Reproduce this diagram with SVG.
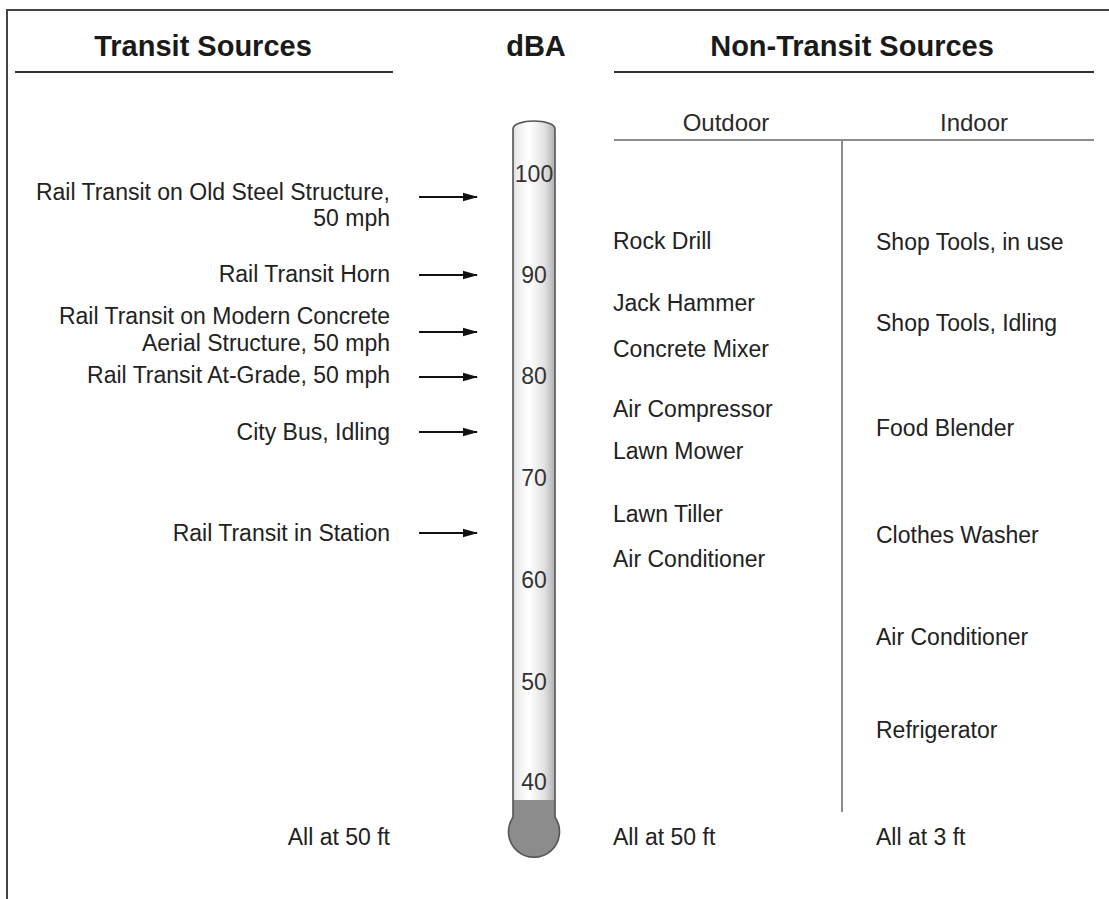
<svg xmlns="http://www.w3.org/2000/svg" width="1109" height="899" viewBox="0 0 1109 899">
  <style>
    .hd { font-family: "Liberation Sans", Arial, sans-serif; font-weight: bold; font-size: 29px; fill: #1a1a1a; }
    .sub { font-family: "Liberation Sans", Arial, sans-serif; font-size: 24px; fill: #2a2a2a; }
    .lbl { font-family: "Liberation Sans", Arial, sans-serif; font-size: 23px; fill: #222; }
    .num { font-family: "Liberation Sans", Arial, sans-serif; font-size: 23px; fill: #333; text-anchor: middle; }
    .end { text-anchor: end; }
    .mid { text-anchor: middle; }
    .rule { stroke: #333; stroke-width: 2; fill: none; }
    .thin { stroke: #666; stroke-width: 1.5; fill: none; }
    .arrow { stroke: #111; stroke-width: 2.2; fill: none; marker-end: url(#ah); }
  </style>
  <defs>
    <marker id="ah" viewBox="0 0 15 10" refX="14" refY="5" markerWidth="15" markerHeight="10" markerUnits="userSpaceOnUse" orient="auto">
      <path d="M0,0.8 L15,5 L0,9.2 Z" fill="#111"/>
    </marker>
    <linearGradient id="tube" x1="0" y1="0" x2="1" y2="0">
      <stop offset="0" stop-color="#b0b0b0"/>
      <stop offset="0.15" stop-color="#ececec"/>
      <stop offset="0.4" stop-color="#ffffff"/>
      <stop offset="0.7" stop-color="#e2e2e2"/>
      <stop offset="1" stop-color="#9c9c9c"/>
    </linearGradient>
    <clipPath id="thermoClip">
      <path d="M513,129 A21,8 0 0 1 555,129 L555,817.3 A25.5,25.5 0 1 1 513,817.3 Z"/>
    </clipPath>
  </defs>

  <rect width="1109" height="899" fill="#ffffff"/>

  <!-- frame -->
  <g id="frame">
    <line x1="6" y1="10" x2="1109" y2="10" stroke="#444" stroke-width="2"/>
    <line x1="7" y1="9" x2="7" y2="899" stroke="#444" stroke-width="2"/>
  </g>

  <!-- headers -->
  <g id="header-transit">
    <text class="hd mid" x="203" y="56">Transit Sources</text>
    <line class="rule" x1="15" y1="72" x2="393" y2="72"/>
  </g>
  <g id="header-dba">
    <text class="hd mid" x="536" y="56">dBA</text>
  </g>
  <g id="header-nontransit">
    <text class="hd mid" x="852" y="56">Non-Transit Sources</text>
    <line class="rule" x1="614" y1="72" x2="1094" y2="72"/>
    <text class="sub mid" x="726" y="131">Outdoor</text>
    <text class="sub mid" x="974" y="131">Indoor</text>
    <line class="thin" x1="614" y1="140" x2="1094" y2="140" stroke="#555"/>
    <line class="thin" x1="842" y1="141" x2="842" y2="812" stroke="#777"/>
  </g>

  <!-- thermometer -->
  <g id="thermometer">
    <path d="M513,129 A21,8 0 0 1 555,129 L555,817.3 A25.5,25.5 0 1 1 513,817.3 Z" fill="url(#tube)"/>
    <rect x="500" y="800" width="70" height="70" fill="#8c8c8c" clip-path="url(#thermoClip)"/>
    <path d="M513,129 A21,8 0 0 1 555,129 L555,817.3 A25.5,25.5 0 1 1 513,817.3 Z" fill="none" stroke="#555" stroke-width="1.6"/>
    <text class="num" x="534" y="182">100</text>
    <text class="num" x="534" y="283">90</text>
    <text class="num" x="534" y="384">80</text>
    <text class="num" x="534" y="486">70</text>
    <text class="num" x="534" y="588">60</text>
    <text class="num" x="534" y="690">50</text>
    <text class="num" x="534" y="790">40</text>
  </g>

  <!-- transit sources -->
  <g id="transit-old-steel">
    <text class="lbl end" x="390" y="200">Rail Transit on Old Steel Structure,</text>
    <text class="lbl end" x="390" y="226">50 mph</text>
  </g>
  <g id="transit-horn">
    <text class="lbl end" x="390" y="282">Rail Transit Horn</text>
  </g>
  <g id="transit-concrete">
    <text class="lbl end" x="390" y="324">Rail Transit on Modern Concrete</text>
    <text class="lbl end" x="390" y="351">Aerial Structure, 50 mph</text>
  </g>
  <g id="transit-at-grade">
    <text class="lbl end" x="390" y="383">Rail Transit At-Grade, 50 mph</text>
  </g>
  <g id="transit-bus">
    <text class="lbl end" x="390" y="440">City Bus, Idling</text>
  </g>
  <g id="transit-station">
    <text class="lbl end" x="390" y="541">Rail Transit in Station</text>
  </g>
  <g id="transit-distance">
    <text class="lbl end" x="390" y="845">All at 50 ft</text>
  </g>

  <!-- connectors -->
  <g id="connectors">
    <line class="arrow" x1="419" y1="197" x2="477" y2="197"/>
    <line class="arrow" x1="419" y1="275" x2="477" y2="275"/>
    <line class="arrow" x1="419" y1="332" x2="477" y2="332"/>
    <line class="arrow" x1="419" y1="377" x2="477" y2="377"/>
    <line class="arrow" x1="419" y1="432" x2="477" y2="432"/>
    <line class="arrow" x1="419" y1="533" x2="477" y2="533"/>
  </g>

  <!-- outdoor -->
  <g id="outdoor">
    <text class="lbl" x="613" y="249">Rock Drill</text>
    <text class="lbl" x="613" y="311">Jack Hammer</text>
    <text class="lbl" x="613" y="357">Concrete Mixer</text>
    <text class="lbl" x="613" y="417">Air Compressor</text>
    <text class="lbl" x="613" y="459">Lawn Mower</text>
    <text class="lbl" x="613" y="522">Lawn Tiller</text>
    <text class="lbl" x="613" y="567">Air Conditioner</text>
    <text class="lbl" x="613" y="845">All at 50 ft</text>
  </g>

  <!-- indoor -->
  <g id="indoor">
    <text class="lbl" x="876" y="250">Shop Tools, in use</text>
    <text class="lbl" x="876" y="331">Shop Tools, Idling</text>
    <text class="lbl" x="876" y="436">Food Blender</text>
    <text class="lbl" x="876" y="543">Clothes Washer</text>
    <text class="lbl" x="876" y="645">Air Conditioner</text>
    <text class="lbl" x="876" y="738">Refrigerator</text>
    <text class="lbl" x="876" y="845">All at 3 ft</text>
  </g>
</svg>
